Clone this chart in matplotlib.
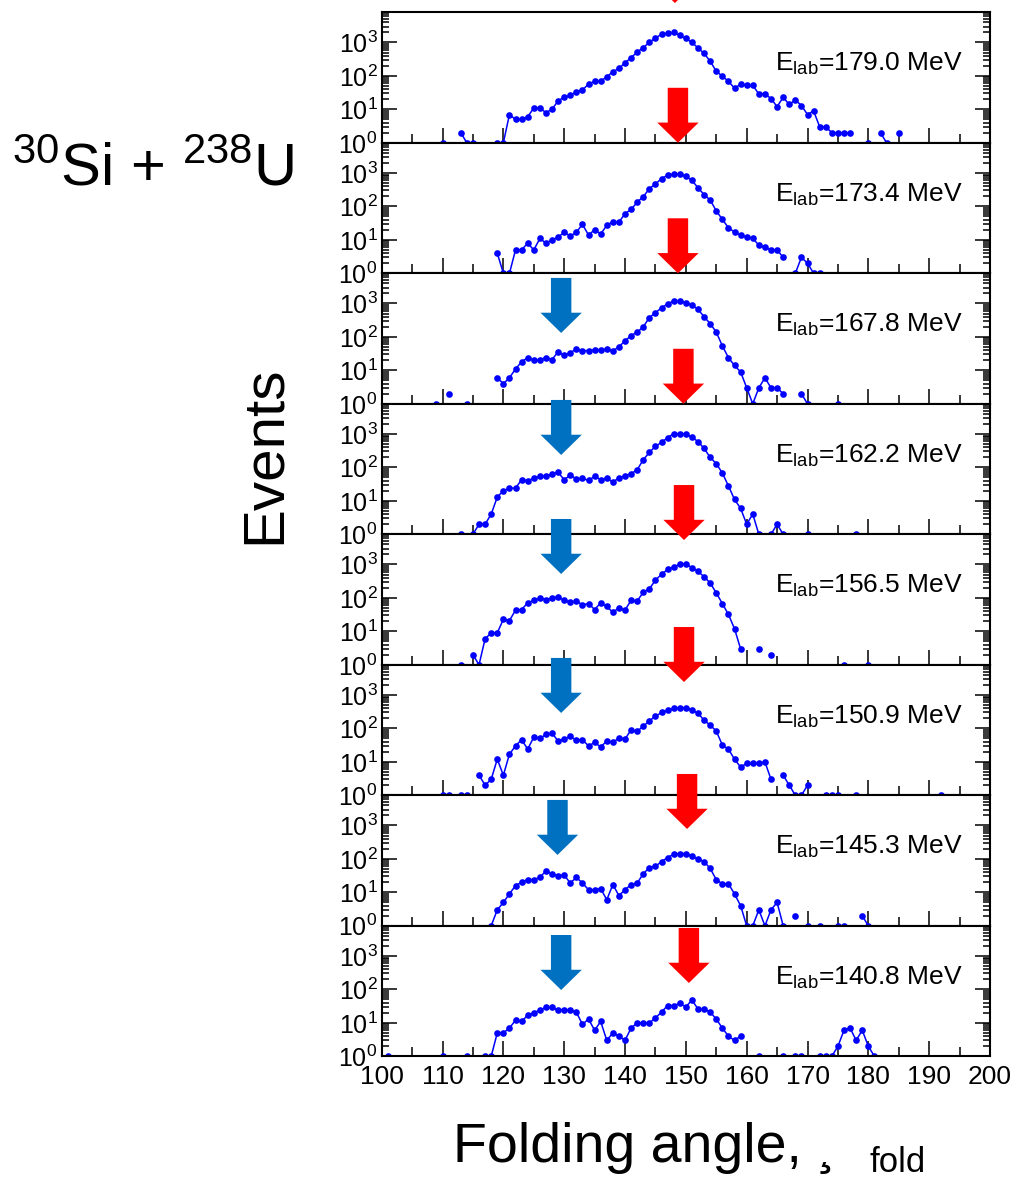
import numpy as np
import matplotlib
matplotlib.use("Agg")
import matplotlib.pyplot as plt
from matplotlib.patches import Polygon
from matplotlib import transforms
from matplotlib.ticker import MultipleLocator, LogLocator

plt.rcParams["font.family"] = ["Liberation Sans", "DejaVu Sans"]
plt.rcParams["mathtext.fontset"] = "custom"
plt.rcParams["mathtext.rm"] = "Liberation Sans"
plt.rcParams["mathtext.it"] = "Liberation Sans:italic"
plt.rcParams["mathtext.bf"] = "Liberation Sans:bold"

# beam energies, top panel first
energies = [179.0, 173.4, 167.8, 162.2, 156.5, 150.9, 145.3, 140.8]

# events per 1 deg bin, as (first angle, counts) runs; empty bins break the line
runs_179 = [(110, [1]), (113, [2, 1, 1]),
            (119, [1, 1, 7, 5, 5, 6, 11, 11, 8, 10,
                   18, 23, 26, 34, 38, 57, 69, 69, 95, 132,
                   170, 245, 355, 513, 708, 1000, 1380, 1740, 1900, 2000,
                   1660, 1320, 1000, 690, 470, 275, 138, 98, 69, 43,
                   56, 52, 52, 29, 29, 21, 12, 23, 14, 19,
                   13, 7, 9, 3, 3, 2, 2, 2, 2]),
            (180, [1]), (182, [2, 1]), (185, [2])]
runs_173 = [(119, [4, 1, 1, 5, 5, 8, 5, 11, 8, 10,
                   12, 17, 13, 17, 29, 14, 20, 15, 27, 35,
                   34, 61, 81, 135, 195, 340, 470, 680, 860, 920,
                   920, 790, 600, 360, 225, 155, 74, 41, 23, 17,
                   14, 12, 11, 7, 6, 5, 5, 3]),
            (168, [1, 3, 2, 1, 1])]
runs_167 = [(109, [1]), (111, [2]), (114, [1]),
            (119, [6, 4, 6, 11, 18, 24, 20, 21, 24, 21,
                   36, 28, 34, 43, 39, 39, 41, 41, 43, 38,
                   51, 76, 110, 139, 200, 380, 530, 740, 980, 1180,
                   1180, 1070, 890, 670, 400, 250, 139, 54, 24, 14,
                   9, 3, 1, 3, 6, 3, 3, 2]),
            (169, [2, 1]), (175, [1])]
runs_162 = [(113, [1]),
            (115, [1, 2, 2, 4, 13, 20, 24, 24, 43, 40,
                   47, 54, 54, 65, 71, 43, 59, 45, 47, 41,
                   54, 43, 47, 37, 48, 57, 65, 85, 170, 280,
                   430, 560, 780, 1020, 1020, 980, 810, 590, 370, 200,
                   130, 68, 28, 11, 6, 2, 4, 1]),
            (164, [1, 2, 1]), (170, [1]), (178, [1])]
runs_156 = [(113, [1]),
            (115, [2, 1, 6, 9, 9, 23, 21, 43, 45, 71,
                   85, 100, 89, 100, 107, 85, 74, 81, 62, 68,
                   45, 71, 56, 37, 51, 43, 85, 81, 148, 186,
                   340, 510, 710, 850, 1020, 1020, 810, 620, 430, 280,
                   141, 68, 32, 12, 3]),
            (162, [3]), (164, [2]), (176, [1]), (180, [1])]
runs_150 = [(110, [1, 1]), (113, [1, 1]),
            (116, [4, 2, 3, 12, 4, 17, 30, 46, 24, 55,
                   50, 66, 72, 42, 48, 58, 44, 46, 30, 38,
                   28, 42, 38, 52, 48, 91, 83, 115, 170, 229,
                   300, 347, 400, 417, 417, 347, 288, 174, 126, 83,
                   32, 24, 12, 7, 9, 9, 9, 10, 3]),
            (166, [4, 2, 1, 1, 2]), (173, [1, 1, 1]), (178, [1]), (192, [1])]
runs_145 = [(118, [1, 3, 5, 9, 16, 20, 24, 24, 28, 44,
                   36, 31, 33, 19, 28, 19, 12, 12, 13, 6,
                   17, 8, 12, 17, 19, 36, 55, 60, 83, 110,
                   138, 145, 145, 120, 100, 83, 52, 24, 18, 18,
                   9, 4, 1, 1, 3, 1, 3, 5, 1]),
            (168, [2]), (170, [1]), (172, [1]), (175, [1, 1]), (179, [2, 1])]
runs_140 = [(101, [1]), (110, [1]), (114, [1]),
            (117, [1, 1, 5, 5, 7, 12, 11, 17, 20, 24,
                   29, 29, 24, 25, 24, 21, 9, 13, 6, 11,
                   3, 5, 4, 3, 7, 10, 10, 10, 14, 21,
                   33, 33, 38, 30, 48, 26, 26, 21, 13, 7,
                   4, 3, 4]),
            (162, [1]), (166, [1]), (168, [1, 1]),
            (172, [1, 1, 1, 2, 6, 7, 3, 6, 2, 1])]
all_runs = [runs_179, runs_173, runs_167, runs_162, runs_156, runs_150, runs_145, runs_140]

# marked angles (deg): red = full momentum transfer fission, blue = quasifission
red_angles = [148.2, 148.7, 148.7, 149.6, 149.7, 149.7, 150.2, 150.5]
blue_angles = [None, None, 129.5, 129.5, 129.5, 129.5, 128.9, 129.5]

# arrow tip heights in axes fraction of their panel
red_tip = [1.071, 1.0, 1.0, 1.0, 0.956, 0.868, 0.742, 0.562]
blue_tip = [None, None, 0.543, 0.608, 0.696, 0.631, 0.543, 0.508]


def runs_to_xy(runs):
    xs, ys = [], []
    for start, vals in runs:
        xs += list(range(start, start + len(vals))) + [np.nan]
        ys += list(vals) + [np.nan]
    return np.array(xs, float), np.array(ys, float)


def add_arrow(fig, ax, x, tip, color):
    tr = transforms.blended_transform_factory(ax.transData, ax.transAxes)
    L, H, sw, hw = 0.4215, 0.155, 1.68, 3.4
    verts = [(x - sw, tip + L), (x + sw, tip + L), (x + sw, tip + H), (x + hw, tip + H),
             (x, tip), (x - hw, tip + H), (x - sw, tip + H)]
    fig.add_artist(Polygon(verts, closed=True, transform=tr, facecolor=color,
                           edgecolor="none", clip_on=False, zorder=5))


W, H = 1015, 1178
fig = plt.figure(figsize=(W / 100, H / 100), dpi=100, facecolor="white")

left_px, right_px, top_px, ph = 381.7, 990.0, 12.3, 130.5
axes = []
for i, (energy, runs) in enumerate(zip(energies, all_runs)):
    bottom = 1 - (top_px + ph * (i + 1)) / H
    ax = fig.add_axes([left_px / W, bottom, (right_px - left_px) / W, ph / H])
    x, y = runs_to_xy(runs)
    ax.plot(x, y, color="#0000ff", lw=1.1, marker="o", ms=4.8, mew=0)
    ax.set_yscale("log")
    ax.set_xlim(100, 200)
    ax.set_ylim(1, 8000)
    ax.xaxis.set_major_locator(MultipleLocator(10))
    ax.xaxis.set_minor_locator(MultipleLocator(5))
    ax.yaxis.set_major_locator(LogLocator(base=10, numticks=10))
    ax.yaxis.set_minor_locator(LogLocator(base=10, subs=np.arange(2, 10), numticks=20))
    ax.tick_params(which="both", direction="in", left=True, right=True, top=False,
                   bottom=True, width=1.1, labelsize=18, pad=3)
    ax.tick_params(which="major", axis="y", length=10.8)
    ax.tick_params(which="minor", axis="y", length=5)
    ax.tick_params(which="major", axis="x", length=11, labelsize=19, pad=6)
    ax.tick_params(which="minor", axis="x", length=6.5)
    if i < len(energies) - 1:
        ax.tick_params(labelbottom=False)
    for s in ax.spines.values():
        s.set_linewidth(1.5)
    ax.text(0.955, 0.55, r"E$_{\mathrm{lab}}$=%.1f MeV" % energy, transform=ax.transAxes,
            ha="right", va="baseline", fontsize=19)
    axes.append(ax)

for i, ax in enumerate(axes):
    add_arrow(fig, ax, red_angles[i], red_tip[i], "#ff0000")
    if blue_angles[i] is not None:
        add_arrow(fig, ax, blue_angles[i], blue_tip[i], "#0070c0")

fig.text(12 / W, 1 - 185 / H, r"$^{30}$Si + $^{238}$U", fontsize=43, ha="left", va="baseline")
fig.text(265 / W, 1 - 455 / H, "Events", rotation=90, fontsize=42, ha="center", va="center")
fig.text(453 / W, 1 - 1162 / H, "Folding angle, \u00b8", fontsize=40, ha="left", va="baseline")
fig.text(870 / W, 1 - 1172 / H, "fold", fontsize=25, ha="left", va="baseline")

fig.savefig("out.png", dpi=100, facecolor="white")
